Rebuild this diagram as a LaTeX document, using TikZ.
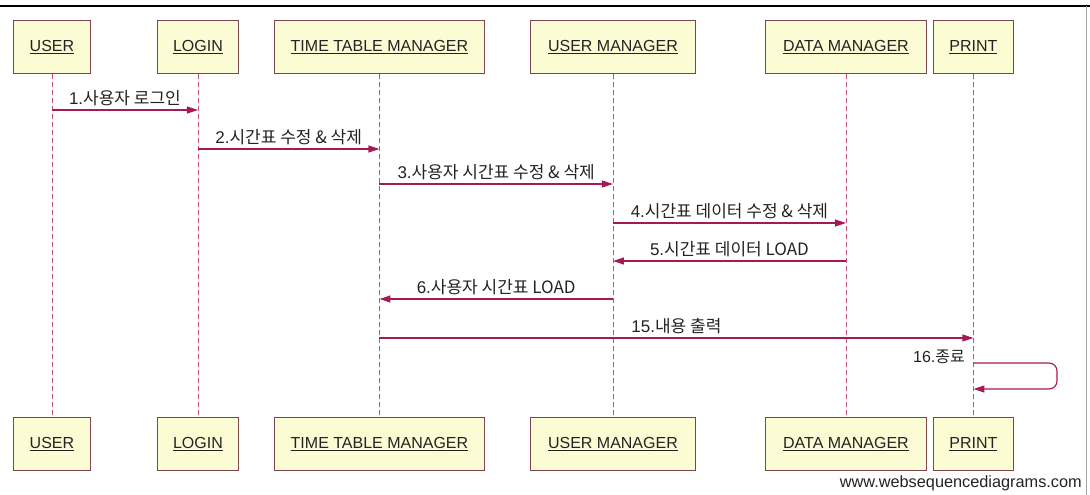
\documentclass[tikz,border=0pt]{standalone}
\usepackage{fontspec}
\setmainfont{Liberation Sans}
\newfontfamily\kr{Noto Sans CJK KR}
\usetikzlibrary{arrows.meta}
\definecolor{boxfill}{RGB}{252,252,212}
\definecolor{boxline}{RGB}{125,70,78}
\definecolor{lifec}{RGB}{190,85,125}
\definecolor{msgc}{RGB}{165,25,85}
\definecolor{txt}{RGB}{35,35,35}
\begin{document}
\begin{tikzpicture}[x=1pt,y=-1pt,
  actor/.style={draw=boxline, fill=boxfill, line width=0.9pt, minimum height=53pt,
    inner sep=0pt, font=\fontsize{16}{18}\selectfont, text=txt, anchor=north west},
  lifeline/.style={draw=lifec, line width=0.8pt, dash pattern=on 5pt off 3pt},
  msg/.style={draw=msgc, line width=1.1pt, -{Triangle[length=11pt,width=7pt]}},
  lbl/.style={anchor=base, inner sep=0pt, yshift=5.5pt, text=txt, font=\fontsize{17}{19}\selectfont}]
\useasboundingbox (0,0) rectangle (1090,495);
% frame
\draw[black, line width=1.4pt] (0,6) -- (1090,6);
\draw[gray!70, line width=1pt] (1086,6) -- (1086,495);
% actors top
\node[actor, minimum width=77pt]  (uT) at (13,20)  {\underline{USER}};
\node[actor, minimum width=81pt]  (lT) at (157,20) {\underline{LOGIN}};
\node[actor, minimum width=210pt] (tT) at (274,20) {\underline{TIME TABLE MANAGER}};
\node[actor, minimum width=165pt] (mT) at (530,20) {\underline{USER MANAGER}};
\node[actor, minimum width=161pt] (dT) at (765,20) {\underline{DATA MANAGER}};
\node[actor, minimum width=80pt]  (pT) at (933,20) {\underline{PRINT}};
% actors bottom
\node[actor, minimum width=77pt]  (uB) at (13,417)  {\underline{USER}};
\node[actor, minimum width=81pt]  (lB) at (157,417) {\underline{LOGIN}};
\node[actor, minimum width=210pt] (tB) at (274,417) {\underline{TIME TABLE MANAGER}};
\node[actor, minimum width=165pt] (mB) at (530,417) {\underline{USER MANAGER}};
\node[actor, minimum width=161pt] (dB) at (765,417) {\underline{DATA MANAGER}};
\node[actor, minimum width=80pt]  (pB) at (933,417) {\underline{PRINT}};
% lifelines
\foreach \a in {u,l,t,m,d,p} \draw[lifeline] (\a T.south) -- (\a B.north);
% message levels
\coordinate (y1) at (0,110);
\coordinate (y2) at (0,149);
\coordinate (y3) at (0,184);
\coordinate (y4) at (0,223);
\coordinate (y5) at (0,261);
\coordinate (y6) at (0,299);
\coordinate (y15) at (0,338);
\coordinate (y16a) at (0,363);
\coordinate (y16b) at (0,389);
\coordinate (c1) at (1057,363);
\coordinate (c2) at (1057,389);
% messages
\draw[msg] (uT |- y1) -- node[lbl] {1.\kr{사용자 로그인}} (lT |- y1);
\draw[msg] (lT |- y2) -- node[lbl] {2.\kr{시간표 수정} \& \kr{삭제}} (tT |- y2);
\draw[msg] (tT |- y3) -- node[lbl] {3.\kr{사용자 시간표 수정} \& \kr{삭제}} (mT |- y3);
\draw[msg] (mT |- y4) -- node[lbl] {4.\kr{시간표 데이터 수정} \& \kr{삭제}} (dT |- y4);
\draw[msg] (dT |- y5) -- node[lbl] {5.\kr{시간표 데이터} LOAD} (mT |- y5);
\draw[msg] (mT |- y6) -- node[lbl] {6.\kr{사용자 시간표} LOAD} (tT |- y6);
\draw[msg] (tT |- y15) -- node[lbl] {15.\kr{내용 출력}} (pT |- y15);
\draw[msg, rounded corners=8pt] (pT |- y16a) -- (c1) -- (c2) -- (pT |- y16b);
\node[anchor=base east, inner sep=0pt, text=txt, font=\fontsize{16}{18}\selectfont] (l16) at (965,362) {16.\kr{종료}};
% footer
\node[anchor=base east, inner sep=0pt, text=txt, font=\fontsize{16.3}{18}\selectfont] (foot) at (1082,487) {www.websequencediagrams.com};
\end{tikzpicture}
\end{document}
